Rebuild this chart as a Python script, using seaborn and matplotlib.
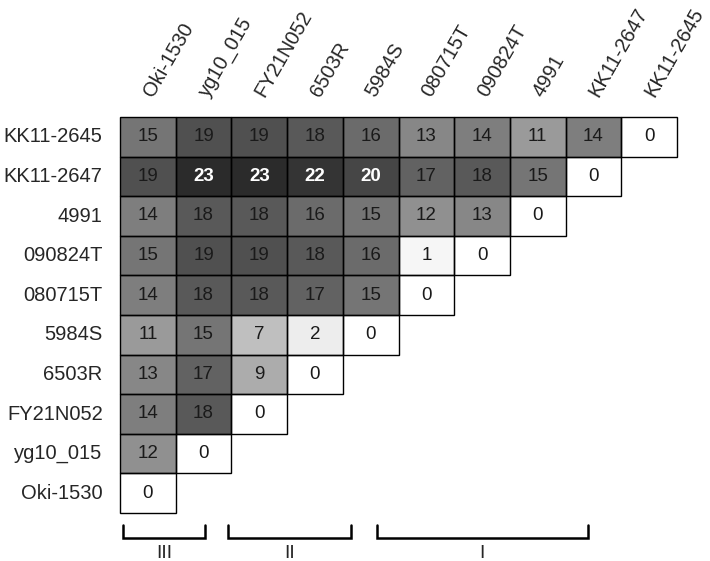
import numpy as np
import pandas as pd
import matplotlib
matplotlib.use("Agg")
import matplotlib.pyplot as plt
from matplotlib.colors import LinearSegmentedColormap
from matplotlib.patches import Rectangle
import seaborn as sns

row_labels = ["KK11-2645", "KK11-2647", "4991", "090824T", "080715T",
              "5984S", "6503R", "FY21N052", "yg10_015", "Oki-1530"]
col_labels = ["Oki-1530", "yg10_015", "FY21N052", "6503R", "5984S",
              "080715T", "090824T", "4991", "KK11-2647", "KK11-2645"]

kk11_2645 = [15, 19, 19, 18, 16, 13, 14, 11, 14, 0]
kk11_2647 = [19, 23, 23, 22, 20, 17, 18, 15, 0]
s4991 = [14, 18, 18, 16, 15, 12, 13, 0]
s090824t = [15, 19, 19, 18, 16, 1, 0]
s080715t = [14, 18, 18, 17, 15, 0]
s5984s = [11, 15, 7, 2, 0]
s6503r = [13, 17, 9, 0]
fy21n052 = [14, 18, 0]
yg10_015 = [12, 0]
oki_1530 = [0]

rows = [kk11_2645, kk11_2647, s4991, s090824t, s080715t,
        s5984s, s6503r, fy21n052, yg10_015, oki_1530]

groups = ["III", "II", "I"]
group_spans = [(0.05, 1.53), (1.94, 4.15), (4.61, 8.40)]

n = len(col_labels)
mat = np.full((len(rows), n), np.nan)
for i, r in enumerate(rows):
    mat[i, :len(r)] = r
df = pd.DataFrame(mat, index=row_labels, columns=col_labels)

sns.set_style("white")
plt.rcParams["font.family"] = ["Liberation Sans", "DejaVu Sans"]

fig = plt.figure(figsize=(7.1, 5.61), dpi=100)
ax = fig.add_axes([120 / 710, 1 - 513 / 561, 557 / 710, 396 / 561])

cmap = LinearSegmentedColormap.from_list("g", ["#ffffff", "#2b2b2b"])
sns.heatmap(df, ax=ax, cmap=cmap, vmin=0, vmax=23, cbar=False,
            linewidths=0, annot=False)

for i, r in enumerate(rows):
    for j, v in enumerate(r):
        ax.add_patch(Rectangle((j, i), 1, 1, fill=False, edgecolor="black",
                               lw=1.0, clip_on=False, zorder=3))
        white = v >= 20
        ax.text(j + 0.5, i + 0.5, f"{v:g}", ha="center", va="center",
                fontsize=13.5, color="white" if white else "#1a1a1a",
                fontweight="bold" if white else "normal", zorder=4)

ax.xaxis.tick_top()
ax.set_xticks(np.arange(n) + 0.5)
ax.set_xticklabels(col_labels, rotation=60, ha="left", va="center",
                   rotation_mode="anchor", fontsize=14.5)
ax.set_yticks(np.arange(len(rows)) + 0.5)
ax.set_yticklabels(row_labels, rotation=0, fontsize=14.5)
ax.tick_params(axis="both", length=0)
ax.tick_params(axis="y", pad=12.5)
ax.tick_params(axis="x", pad=16)
ax.set_xlabel("")
ax.set_ylabel("")
for s in ax.spines.values():
    s.set_visible(False)

for g, (x0, x1) in zip(groups, group_spans):
    ax.plot([x0, x0, x1, x1], [10.3, 10.62, 10.62, 10.3], color="black",
            lw=1.8, clip_on=False, solid_joinstyle="miter")
    ax.text((x0 + x1) / 2, 11.02, g, ha="center", va="center",
            fontsize=14, clip_on=False)

fig.savefig("out.png", dpi=100)
